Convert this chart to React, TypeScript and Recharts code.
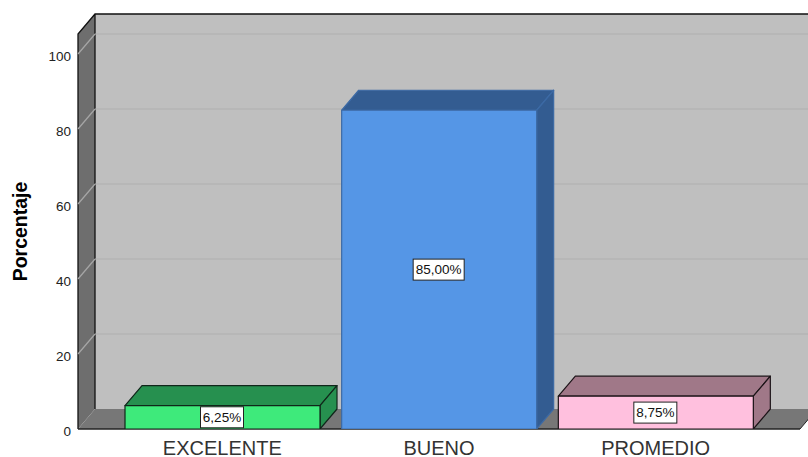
import { Bar, BarChart, LabelList, ReferenceArea, ReferenceLine, XAxis, YAxis } from "recharts";

const categories = ["EXCELENTE", "BUENO", "PROMEDIO"];
const percentages = [6.25, 85, 8.75];
const valueLabels = ["6,25%", "85,00%", "8,75%"];
const yTicks = [0, 20, 40, 60, 80, 100];
const frontColors = ["#3eea7b", "#5596e6", "#ffc0de"];
const darkColors = ["#26904f", "#335c91", "#a07888"];
const edgeColors = ["#10261a", "#3c6aa5", "#1c1418"];

const DEPTH_X = 17;
const DEPTH_Y = 20;
const Y_MAX = 105.33;
const X_PAD = 36;

const data = categories.map((name, i) => ({ name, value: percentages[i], label: valueLabels[i] }));

// back wall, left wall and floor of the 3D box
function Walls({ x: px, y, width: pw, height }: any) {
  // the area comes in with the axis padding taken off
  const x = px - X_PAD;
  const width = pw + X_PAD * 2;
  const bottom = y + height;
  const right = x + width;
  return (
    <g>
      <rect x={x + DEPTH_X} y={y - DEPTH_Y} width={width + 20} height={height} fill="#bfbfbf" />
      <polygon
        points={`${x},${y} ${x + DEPTH_X},${y - DEPTH_Y} ${x + DEPTH_X},${bottom - DEPTH_Y} ${x},${bottom}`}
        fill="#6e6e6e"
      />
      <polygon
        points={`${x},${bottom} ${x + DEPTH_X},${bottom - DEPTH_Y} ${right + DEPTH_X},${bottom - DEPTH_Y} ${right},${bottom}`}
        fill="#777777"
      />
      <path
        d={`M${x},${bottom} L${x},${y} L${x + DEPTH_X},${y - DEPTH_Y} L${right + 20},${y - DEPTH_Y} M${x + DEPTH_X},${y - DEPTH_Y} L${x + DEPTH_X},${bottom - DEPTH_Y}`}
        fill="none"
        stroke="#111"
        strokeWidth={1.3}
      />
      <line x1={x} y1={bottom} x2={right} y2={bottom} stroke="#222" strokeWidth={1.3} />
      <line x1={right} y1={bottom} x2={right + DEPTH_X} y2={bottom - DEPTH_Y} stroke="#222" />
    </g>
  );
}

function GridLine({ x1, y1, x2, y2 }: any) {
  return (
    <g>
      <line x1={x1} y1={y1} x2={x1 + DEPTH_X} y2={y1 - DEPTH_Y} stroke="#a6a6a6" strokeWidth={1.2} />
      <line x1={x1 + DEPTH_X} y1={y1 - DEPTH_Y} x2={x2 + 20} y2={y2 - DEPTH_Y} stroke="#b0b0b0" strokeWidth={1.2} />
    </g>
  );
}

function Box3D({ x, y, width, height, index }: any) {
  const r = x + width;
  const b = y + height;
  const edge = edgeColors[index];
  return (
    <g stroke={edge} strokeWidth={1.2} strokeLinejoin="round">
      <polygon
        points={`${x},${y} ${x + DEPTH_X},${y - DEPTH_Y} ${r + DEPTH_X},${y - DEPTH_Y} ${r},${y}`}
        fill={darkColors[index]}
      />
      <polygon
        points={`${r},${y} ${r + DEPTH_X},${y - DEPTH_Y} ${r + DEPTH_X},${b - DEPTH_Y} ${r},${b}`}
        fill={darkColors[index]}
      />
      <rect x={x} y={y} width={width} height={height} fill={frontColors[index]} />
    </g>
  );
}

function ValueBox({ x, y, width, height, value }: any) {
  const boxW = String(value).length > 5 ? 51 : 43;
  const boxH = 21;
  const cx = x + width / 2 - 0.5;
  const cy = y + height / 2;
  return (
    <g>
      <rect x={cx - boxW / 2} y={cy - boxH / 2} width={boxW} height={boxH} fill="#fff" stroke="#222" />
      <text x={cx} y={cy + 4.5} textAnchor="middle" fontSize={13.5} fontFamily="Liberation Sans" fill="#111">
        {value}
      </text>
    </g>
  );
}

export default function App() {
  return (
    <div style={{ position: "absolute", left: 0, top: 0 }}>
      <BarChart
        width={808}
        height={457}
        data={data}
        margin={{ top: 34, right: 8, bottom: 0, left: 0 }}
        barSize={195}
      >
        <XAxis
          dataKey="name"
          height={28}
          padding={{ left: X_PAD, right: X_PAD }}
          axisLine={false}
          tickLine={false}
          tickSize={0}
          tickMargin={12}
          tick={{ fontSize: 20, fontFamily: "Liberation Sans", fill: "#333" }}
        />
        <YAxis
          width={78}
          domain={[0, Y_MAX]}
          ticks={yTicks}
          allowDataOverflow
          axisLine={false}
          tickLine={false}
          tickSize={0}
          tickMargin={7}
          tick={{ fontSize: 13.5, fontFamily: "Liberation Sans", fill: "#222", dy: 2 }}
          label={{
            value: "Porcentaje",
            angle: -90,
            position: "insideLeft",
            offset: 20,
            style: { fontSize: 19.5, fontWeight: 700, fontFamily: "Liberation Sans", fill: "#000", textAnchor: "middle" },
          }}
        />
        <ReferenceArea y1={0} y2={Y_MAX} ifOverflow="visible" shape={<Walls />} />
        {yTicks.slice(1).map((t) => (
          <ReferenceLine key={t} y={t} zIndex={150} shape={<GridLine />} />
        ))}
        <Bar dataKey="value" isAnimationActive={false} shape={<Box3D />}>
          <LabelList dataKey="label" content={<ValueBox />} />
        </Bar>
      </BarChart>
    </div>
  );
}
